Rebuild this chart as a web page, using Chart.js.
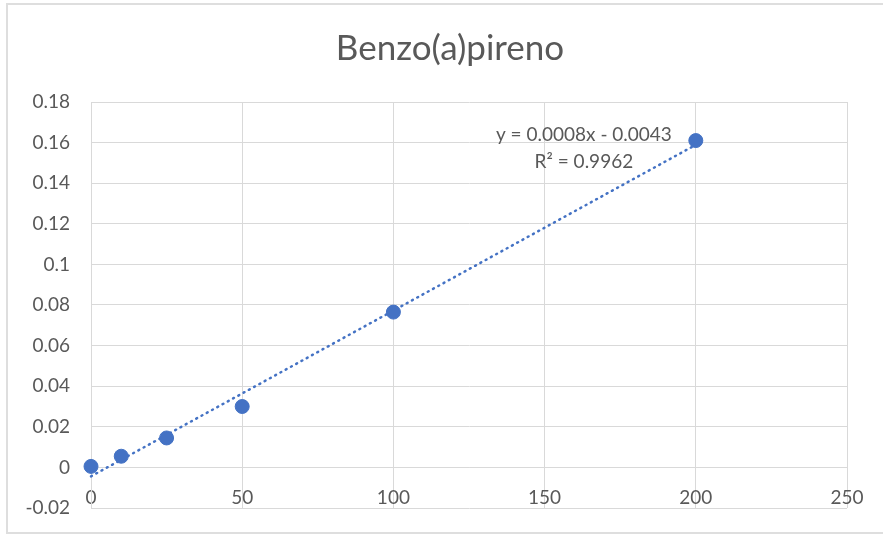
<!DOCTYPE html>
<html lang="es">
<head>
  <meta charset="UTF-8" />
  <title>Benzo(a)pireno</title>
  <script src="https://cdn.jsdelivr.net/npm/chart.js"></script>
  <style>
    html, body { margin: 0; padding: 0; background: #fff; overflow: hidden; }
    #marco { position: absolute; left: 6px; top: 3px; width: 1000px; height: 527px; border: 2px solid #dedede; }
    #grafico { position: absolute; left: 0; top: 0; }
  </style>
</head>
<body>
<div id="marco"></div>
<canvas id="grafico" width="883" height="534"></canvas>

<script>
// datos de la curva de calibración
const concentraciones = [0, 10, 25, 50, 100, 200];
const absorbancias = [0.0005, 0.0055, 0.0145, 0.030, 0.0765, 0.161];

const xTicks = [0, 50, 100, 150, 200, 250];
const xTickLabels = ['0', '50', '100', '150', '200', '250'];
const yTicks = [-0.02, 0, 0.02, 0.04, 0.06, 0.08, 0.1, 0.12, 0.14, 0.16, 0.18];
const yTickLabels = ['-0.02', '0', '0.02', '0.04', '0.06', '0.08', '0.1', '0.12', '0.14', '0.16', '0.18'];

const titulo = 'Benzo(a)pireno';
const ecuacion = 'y = 0.0008x - 0.0043';
const r2 = 'R² = 0.9962';

// regresión lineal para la línea de tendencia
const n = concentraciones.length;
const mx = concentraciones.reduce((a, b) => a + b, 0) / n;
const my = absorbancias.reduce((a, b) => a + b, 0) / n;
let sxy = 0, sxx = 0;
concentraciones.forEach((x, i) => { sxy += (x - mx) * (absorbancias[i] - my); sxx += (x - mx) ** 2; });
const pendiente = sxy / sxx;
const intercepto = my - pendiente * mx;
const xMin = concentraciones[0], xMax = concentraciones[n - 1];
const tendencia = [
  { x: xMin, y: pendiente * xMin + intercepto },
  { x: xMax, y: pendiente * xMax + intercepto }
];

const AZUL = '#4472C4';
const GRIS_TEXTO = '#595959';
const GRIS_REJILLA = '#d9d9d9';
const FUENTE = 'Lato, "Open Sans", sans-serif';

// título centrado como en Excel y etiqueta de la ecuación junto al último punto
const textos = {
  id: 'textos',
  afterDatasetsDraw(chart) {
    const { ctx, scales } = chart;
    ctx.save();
    ctx.fillStyle = GRIS_TEXTO;
    ctx.textAlign = 'center';
    ctx.textBaseline = 'middle';
    ctx.font = '35px ' + FUENTE;
    ctx.fillText(titulo, 450, 49);

    const cx = scales.x.getPixelForValue(163);
    const cy = scales.y.getPixelForValue(0.1615);
    ctx.font = '19px ' + FUENTE;
    ctx.fillText(ecuacion, cx, cy - 5);
    ctx.fillText(r2, cx, cy + 22);
    ctx.restore();
  }
};

new Chart(document.getElementById('grafico'), {
  type: 'scatter',
  data: {
    datasets: [
      {
        label: 'Absorbancia',
        data: concentraciones.map((x, i) => ({ x, y: absorbancias[i] })),
        backgroundColor: AZUL,
        borderColor: AZUL,
        pointRadius: 7,
        pointHoverRadius: 7,
        clip: false,
        order: 1
      },
      {
        type: 'line',
        label: 'Lineal',
        data: tendencia,
        borderColor: AZUL,
        borderWidth: 2.5,
        borderDash: [1, 5],
        borderCapStyle: 'round',
        pointRadius: 0,
        fill: false,
        clip: false,
        order: 2
      }
    ]
  },
  options: {
    responsive: false,
    animation: false,
    devicePixelRatio: 1,
    layout: { autoPadding: false, padding: { left: 0, right: 36, top: 102, bottom: 26 } },
    plugins: {
      legend: { display: false },
      tooltip: { enabled: false },
      title: { display: false }
    },
    scales: {
      x: {
        type: 'linear',
        min: 0,
        max: 250,
        position: { y: 0 },
        afterFit: s => { s.paddingTop = 0; s.paddingBottom = 0; },
        afterBuildTicks: s => { s.ticks = xTicks.map(v => ({ value: v })); },
        grid: { color: GRIS_REJILLA, drawTicks: false },
        border: { color: GRIS_REJILLA },
        ticks: {
          padding: 19,
          color: GRIS_TEXTO,
          font: { family: FUENTE, size: 19 },
          maxRotation: 0,
          callback: (v, i) => xTickLabels[i]
        }
      },
      y: {
        type: 'linear',
        min: -0.02,
        max: 0.18,
        afterFit: s => { s.width = 91; s.paddingTop = 0; s.paddingBottom = 0; },
        afterBuildTicks: s => { s.ticks = yTicks.map(v => ({ value: v })); },
        grid: { color: GRIS_REJILLA, drawTicks: false },
        border: { color: GRIS_REJILLA },
        ticks: {
          padding: 21,
          color: GRIS_TEXTO,
          font: { family: FUENTE, size: 19 },
          callback: (v, i) => yTickLabels[i]
        }
      }
    }
  },
  plugins: [textos]
});
</script>
</body>
</html>
